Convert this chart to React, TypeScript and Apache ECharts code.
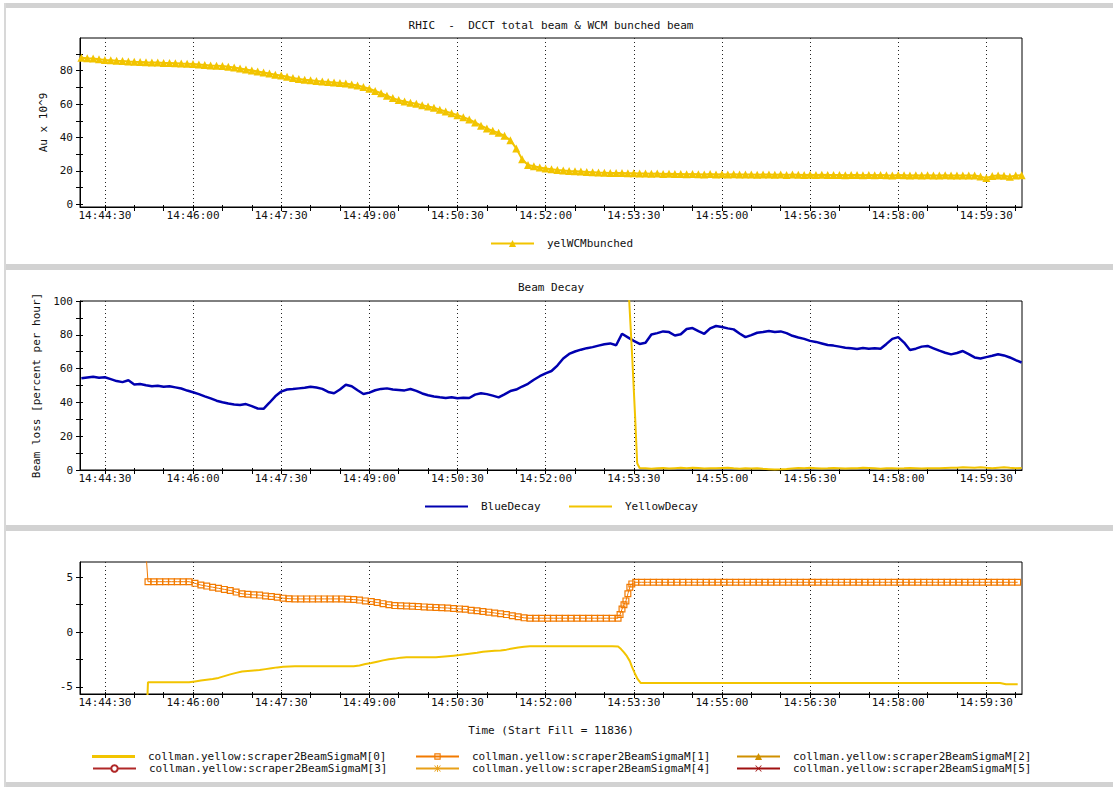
import React, { useEffect, useRef } from 'react';
import * as echarts from 'echarts';

const FONT = '"DejaVu Sans Mono", "Liberation Mono", monospace';
const TXT = '#111111';
const T0 = 14 * 3600 + 44 * 60; // x values are seconds after 14:44:00
const X_MIN = 4.6;
const X_MAX = 966.4;

const xTickValues = [30, 60, 90, 120, 150, 180, 210, 240, 270, 300, 330, 360, 390, 420, 450, 480, 510, 540, 570, 600, 630, 660, 690, 720, 750, 780, 810, 840, 870, 900, 930, 960];
const xLabelValues = [30, 120, 210, 300, 390, 480, 570, 660, 750, 840, 930];

const topYLabels = [0, 20, 40, 60, 80];
const topYTicks = [0, 10, 20, 30, 40, 50, 60, 70, 80, 90];
const midYLabels = [0, 20, 40, 60, 80, 100];
const midYTicks = [0, 10, 20, 30, 40, 50, 60, 70, 80, 90, 100];
const botYLabels = [-5, 0, 5];
const botYTicks = [-5, -2.5, 0, 2.5, 5];

// yelWCMbunched, sampled every 6 s from x = 6
const yelWCMbunched = [
  87.8, 87.5, 87.3, 86.9, 86.5, 86.3, 86.0, 85.9, 85.6, 85.4,
  85.3, 85.1, 85.0, 84.9, 84.7, 84.6, 84.5, 84.3, 84.2, 84.0,
  83.8, 83.5, 83.2, 83.0, 82.8, 82.4, 81.9, 81.3, 80.8, 80.2,
  79.6, 79.0, 78.3, 77.6, 77.1, 76.4, 75.7, 75.1, 74.6, 74.3,
  73.9, 73.5, 73.2, 72.9, 72.7, 72.3, 71.8, 71.2, 70.3, 69.2,
  67.9, 66.5, 65.0, 63.6, 62.4, 61.6, 60.9, 60.2, 59.4, 58.6,
  57.8, 56.7, 55.6, 54.6, 53.4, 52.2, 50.8, 49.0, 47.1, 45.4,
  44.0, 42.8, 41.0, 38.4, 33.5, 27.0, 23.6, 22.8, 22.0, 21.4,
  21.0, 20.6, 20.3, 20.0, 19.8, 19.6, 19.4, 19.2, 19.0, 18.9,
  18.8, 18.7, 18.7, 18.6, 18.6, 18.4, 18.5, 18.3, 18.4, 18.2,
  18.3, 18.1, 18.2, 18.0, 18.1, 18.0, 17.9, 18.1, 17.9, 18.0,
  17.8, 18.0, 17.9, 17.8, 17.9, 17.7, 17.9, 17.8, 17.7, 17.8,
  17.6, 17.8, 17.7, 17.6, 17.7, 17.5, 17.7, 17.6, 17.5, 17.6,
  17.4, 17.6, 17.5, 17.4, 17.5, 17.4, 17.6, 17.4, 17.3, 17.5,
  17.4, 17.3, 17.4, 17.2, 17.4, 17.3, 17.2, 17.4, 17.3, 17.2,
  17.3, 17.3, 17.2, 16.6, 15.8, 16.9, 17.3, 17.1, 16.5, 17.2,
  17.4,
];

// BlueDecay, sampled every 6 s from x = 6
const blueDecay = [
  54.3, 54.8, 55.2, 54.6, 54.9, 53.8, 52.6, 52.0, 53.1, 50.6,
  50.9, 50.2, 49.6, 49.9, 49.3, 49.6, 48.9, 48.2, 47.0, 46.0,
  44.9, 43.6, 42.4, 41.0, 40.1, 39.3, 38.8, 38.5, 39.0, 37.8,
  36.4, 36.2, 39.8, 43.6, 46.4, 47.6, 47.9, 48.3, 48.7, 49.2,
  48.8, 48.0, 46.2, 45.4, 47.6, 50.4, 49.6, 47.2, 45.0, 45.8,
  47.2, 48.0, 48.3, 47.6, 47.4, 47.1, 47.9, 46.8, 45.3, 44.2,
  43.5, 43.0, 42.6, 43.0, 42.4, 42.7, 42.6, 44.6, 45.4, 44.9,
  44.0, 43.0, 44.8, 46.7, 47.6, 49.4, 51.0, 53.4, 55.5, 57.2,
  58.6, 61.8, 66.0, 68.7, 70.1, 71.2, 72.1, 72.7, 73.6, 74.4,
  74.9, 73.8, 80.6, 78.5, 76.4, 74.6, 75.3, 80.2, 81.0, 82.0,
  81.6, 79.6, 80.3, 83.4, 84.0, 82.2, 80.6, 83.8, 85.2, 84.6,
  83.8, 83.2, 80.8, 78.6, 79.8, 81.2, 81.6, 82.2, 81.6, 82.0,
  81.0, 79.4, 78.4, 77.6, 76.4, 75.8, 74.9, 74.0, 73.6, 73.0,
  72.4, 72.0, 71.6, 72.2, 71.8, 72.0, 71.7, 74.6, 77.6, 78.6,
  75.4, 71.0, 71.8, 73.0, 73.4, 72.0, 70.6, 69.4, 68.4, 69.2,
  70.4, 68.6, 66.6, 66.0, 66.8, 67.6, 68.5, 67.8, 66.6, 65.0,
  63.6,
];

// YellowDecay: the steep drop, then every 6 s from x = 582
const yellowDecayDrop = [[565, 104], [568.5, 66], [571.5, 30], [573.5, 4], [576, 1.2]];
const yellowDecayTail = [
  1.0, 0.8, 1.0, 1.2, 0.9, 1.1, 1.3, 1.0, 1.4, 1.2,
  0.9, 1.1, 1.0, 1.2, 1.3, 1.0, 0.8, 1.1, 0.9, 1.0,
  0.7, 0.5, 0.3, 0.4, 0.6, 0.9, 1.2, 1.0, 1.3, 1.1,
  0.9, 1.0, 1.2, 1.1, 0.9, 1.0, 1.1, 1.3, 1.2, 1.0,
  0.8, 1.0, 1.1, 0.9, 1.0, 1.2, 1.1, 0.9, 1.0, 1.1,
  1.0, 1.2, 1.4, 1.3, 1.6, 1.5, 1.4, 1.6, 1.3, 1.1,
  1.4, 1.6, 1.3, 1.1, 1.2,
];

// scraper2BeamSigmaM[0] (yellow line)
const sigma0Lead = [[73, -7]];
const sigma0Before = [ // every 6 s from x = 74
  -4.58, -4.58, -4.58, -4.58, -4.58, -4.58, -4.58, -4.58, -4.5, -4.42,
  -4.35, -4.28, -4.18, -4.02, -3.86, -3.72, -3.6, -3.55, -3.5, -3.46,
  -3.38, -3.3, -3.22, -3.17, -3.13, -3.12, -3.12, -3.12, -3.12, -3.12,
  -3.12, -3.12, -3.12, -3.12, -3.12, -3.12, -3.05, -2.92, -2.82, -2.7,
  -2.58, -2.48, -2.42, -2.33, -2.3, -2.3, -2.3, -2.3, -2.3, -2.3,
  -2.25, -2.2, -2.15, -2.1, -2.02, -1.95, -1.88, -1.8, -1.74, -1.7,
  -1.67, -1.6, -1.5, -1.4, -1.33, -1.3, -1.3, -1.3, -1.3, -1.3,
  -1.3, -1.3, -1.3, -1.3, -1.3, -1.3, -1.3, -1.3, -1.3, -1.3,
  -1.32,
];
const sigma0Drop = [[557, -1.55], [560, -1.85], [563, -2.2], [566, -2.65], [568, -3.12], [571, -3.75], [574, -4.3], [577, -4.64]];
const sigma0After = [ // every 6 s from x = 578
  -4.64, -4.64, -4.64, -4.64, -4.64, -4.64, -4.64, -4.64, -4.64, -4.64,
  -4.64, -4.64, -4.64, -4.64, -4.64, -4.64, -4.64, -4.64, -4.64, -4.64,
  -4.64, -4.64, -4.64, -4.64, -4.64, -4.64, -4.64, -4.64, -4.64, -4.64,
  -4.64, -4.64, -4.64, -4.64, -4.64, -4.64, -4.64, -4.64, -4.64, -4.64,
  -4.64, -4.64, -4.64, -4.64, -4.64, -4.64, -4.64, -4.64, -4.64, -4.64,
  -4.64, -4.64, -4.64, -4.64, -4.64, -4.64, -4.64, -4.64, -4.64, -4.64,
  -4.64, -4.64, -4.76, -4.76, -4.76,
];

// scraper2BeamSigmaM[1] (orange squares)
const sigma1Lead = [[72, 7.2]];
const sigma1Before = [ // every 6 s from x = 74
  4.6, 4.6, 4.6, 4.6, 4.6, 4.6, 4.6, 4.6, 4.45, 4.3,
  4.2, 4.1, 4.0, 3.9, 3.8, 3.65, 3.5, 3.45, 3.4, 3.38,
  3.3, 3.25, 3.18, 3.1, 3.05, 3.03, 3.03, 3.03, 3.03, 3.03,
  3.03, 3.03, 3.03, 3.03, 3.0, 2.97, 2.92, 2.85, 2.79, 2.7,
  2.6, 2.5, 2.42, 2.4, 2.38, 2.36, 2.33, 2.3, 2.27, 2.25,
  2.22, 2.2, 2.15, 2.12, 2.08, 2.0, 1.95, 1.88, 1.82, 1.75,
  1.67, 1.6, 1.5, 1.4, 1.3, 1.27, 1.27, 1.27, 1.27, 1.27,
  1.27, 1.27, 1.27, 1.27, 1.27, 1.27, 1.27, 1.27, 1.27, 1.27,
  1.27,
];
const sigma1Rise = [[556, 1.6], [558, 2.1], [560, 2.5], [562, 2.85], [564, 3.5], [566, 4.1], [568, 4.4]];
const sigma1After = [ // every 6 s from x = 572
  4.55, 4.55, 4.55, 4.55, 4.55, 4.55, 4.55, 4.55, 4.55, 4.55,
  4.55, 4.55, 4.55, 4.55, 4.55, 4.55, 4.55, 4.55, 4.55, 4.55,
  4.55, 4.55, 4.55, 4.55, 4.55, 4.55, 4.55, 4.55, 4.55, 4.55,
  4.55, 4.55, 4.55, 4.55, 4.55, 4.55, 4.55, 4.55, 4.55, 4.55,
  4.55, 4.55, 4.55, 4.55, 4.55, 4.55, 4.55, 4.55, 4.55, 4.55,
  4.55, 4.55, 4.55, 4.55, 4.55, 4.55, 4.55, 4.55, 4.55, 4.55,
  4.55, 4.55, 4.55, 4.55, 4.55, 4.55,
];

const sigmaNames = [0, 1, 2, 3, 4, 5].map((i) => `collman.yellow:scraper2BeamSigmaM[${i}]`);

const YELLOW = '#f2c400';
const BLUE = '#0000b0';
const ORANGE = '#f27a00';
const C2 = '#d09000';
const C3 = '#b02828';
const C4 = '#e8a018';
const C5 = '#a01010';
const HOLLOW_SQUARE = 'path://M0,0H7V7H0Z M1.2,1.2V5.8H5.8V1.2Z';
const ASTERISK = 'path://M4.4,0H5.6V10H4.4Z M0,4.4H10V5.6H0Z M1.2,0.4L9.6,8.8L8.8,9.6L0.4,1.2Z M8.8,0.4L9.6,1.2L1.2,9.6L0.4,8.8Z';
const XMARK = 'path://M1.2,0.4L9.6,8.8L8.8,9.6L0.4,1.2Z M8.8,0.4L9.6,1.2L1.2,9.6L0.4,8.8Z';

const pairs = (start: number, step: number, vals: number[]) => vals.map((v, i) => [start + step * i, v]);
const pad = (n: number) => (n < 10 ? '0' : '') + n;
const fmtTime = (v: number) => {
  const s = T0 + Math.round(v);
  return `${Math.floor(s / 3600)}:${pad(Math.floor((s % 3600) / 60))}:${pad(s % 60)}`;
};

const GRIDS = [
  { top: 38, height: 169 },
  { top: 301, height: 169 },
  { top: 562, height: 132 },
];

function buildOption() {
  const grid = GRIDS.map((g) => ({
    left: 80, width: 942, top: g.top, height: g.height,
    show: true, borderColor: '#000', borderWidth: 1, backgroundColor: 'transparent',
    containLabel: false, outerBoundsMode: 'none',
  }));
  const xAxis: any[] = [];
  GRIDS.forEach((_, g) => {
    xAxis.push({
      type: 'value', gridIndex: g, min: X_MIN, max: X_MAX, position: 'bottom',
      axisLine: { show: true, onZero: false, lineStyle: { color: '#000', width: 1 } },
      axisTick: { show: true, inside: false, length: 4, customValues: xTickValues, lineStyle: { color: '#000' } },
      axisLabel: { show: true, customValues: xLabelValues, formatter: fmtTime, fontFamily: FONT, fontSize: 11, color: TXT, margin: 3 },
      splitLine: { show: false },
    });
    xAxis.push({
      type: 'value', gridIndex: g, min: X_MIN, max: X_MAX, position: 'bottom',
      axisLine: { show: false, onZero: false },
      axisTick: { show: true, inside: true, length: 2, customValues: xTickValues, lineStyle: { color: '#000' } },
      axisLabel: { show: false }, splitLine: { show: false },
    });
    xAxis.push({
      type: 'value', gridIndex: g, min: X_MIN, max: X_MAX, position: 'bottom',
      axisLine: { show: false, onZero: false },
      axisTick: { show: false, customValues: xLabelValues },
      axisLabel: { show: false },
      splitLine: { show: true, lineStyle: { color: '#222', width: 1, type: [1, 3] } },
    });
  });
  const ySpecs = [
    { min: -1.6, max: 99.6, labels: topYLabels, ticks: topYTicks, name: 'Au x 10^9', gap: 20 },
    { min: 0, max: 100, labels: midYLabels, ticks: midYTicks, name: 'Beam loss [percent per hour]', gap: 29 },
    { min: -5.65, max: 6.4, labels: botYLabels, ticks: botYTicks, name: '', gap: 30 },
  ];
  const yAxis: any[] = [];
  ySpecs.forEach((s, g) => {
    yAxis.push({
      type: 'value', gridIndex: g, min: s.min, max: s.max, position: 'left',
      axisLine: { show: true, onZero: false, lineStyle: { color: '#000', width: 1 } },
      axisTick: { show: true, inside: false, length: 4, customValues: s.ticks, lineStyle: { color: '#000' } },
      axisLabel: { show: true, customValues: s.labels, fontFamily: FONT, fontSize: 11, color: TXT, margin: 7 },
      splitLine: { show: false },
      name: s.name, nameLocation: 'middle', nameGap: s.gap,
      nameTextStyle: { fontFamily: FONT, fontSize: 11, color: TXT },
    });
    yAxis.push({
      type: 'value', gridIndex: g, min: s.min, max: s.max, position: 'left',
      axisLine: { show: false, onZero: false },
      axisTick: { show: true, inside: true, length: 3, customValues: s.ticks, lineStyle: { color: '#000' } },
      axisLabel: { show: false }, splitLine: { show: false },
    });
  });

  const series: any[] = [
    {
      name: 'yelWCMbunched', type: 'line', xAxisIndex: 0, yAxisIndex: 0,
      data: pairs(6, 6, yelWCMbunched), symbol: 'triangle', symbolSize: 8, showSymbol: true,
      lineStyle: { color: YELLOW, width: 2 }, itemStyle: { color: YELLOW }, z: 3,
    },
    {
      name: 'BlueDecay', type: 'line', xAxisIndex: 3, yAxisIndex: 2,
      data: pairs(6, 6, blueDecay), symbol: 'none',
      lineStyle: { color: BLUE, width: 2.5 }, itemStyle: { color: BLUE }, z: 3,
    },
    {
      name: 'YellowDecay', type: 'line', xAxisIndex: 3, yAxisIndex: 2,
      data: [...yellowDecayDrop, ...pairs(582, 6, yellowDecayTail)], symbol: 'none',
      lineStyle: { color: YELLOW, width: 2 }, itemStyle: { color: YELLOW }, z: 4,
    },
    {
      name: sigmaNames[0], type: 'line', xAxisIndex: 6, yAxisIndex: 4,
      data: [...sigma0Lead, ...pairs(74, 6, sigma0Before), ...sigma0Drop, ...pairs(578, 6, sigma0After)],
      symbol: 'none', lineStyle: { color: YELLOW, width: 2 }, itemStyle: { color: YELLOW }, z: 3,
    },
    {
      name: sigmaNames[1], type: 'line', xAxisIndex: 6, yAxisIndex: 4,
      data: [...sigma1Lead, ...pairs(74, 6, sigma1Before), ...sigma1Rise, ...pairs(572, 6, sigma1After)],
      symbol: HOLLOW_SQUARE, symbolSize: 7, showSymbol: true,
      lineStyle: { color: ORANGE, width: 1 }, itemStyle: { color: ORANGE }, z: 4,
    },
    {
      name: sigmaNames[2], type: 'line', xAxisIndex: 6, yAxisIndex: 4, data: [],
      symbol: 'triangle', lineStyle: { color: C2, width: 1 }, itemStyle: { color: C2 },
    },
    {
      name: sigmaNames[3], type: 'line', xAxisIndex: 6, yAxisIndex: 4, data: [],
      symbol: 'emptyCircle', lineStyle: { color: C3, width: 1 }, itemStyle: { color: C3 },
    },
    {
      name: sigmaNames[4], type: 'line', xAxisIndex: 6, yAxisIndex: 4, data: [],
      symbol: ASTERISK, lineStyle: { color: C4, width: 1 }, itemStyle: { color: C4 },
    },
    {
      name: sigmaNames[5], type: 'line', xAxisIndex: 6, yAxisIndex: 4, data: [],
      symbol: XMARK, lineStyle: { color: C5, width: 1 }, itemStyle: { color: C5 },
    },
  ];

  const leg = (name: string, left: number, rowCenter: number, itemHeight: number, icon?: string) => ({
    data: [icon ? { name, icon } : { name }],
    left, top: rowCenter - 6, orient: 'horizontal', padding: 0, itemGap: 0,
    itemWidth: 43, itemHeight, selectedMode: false,
    textStyle: { fontFamily: FONT, fontSize: 11, color: TXT, padding: [0, 0, 0, 8] },
  });
  const legend = [
    leg('yelWCMbunched', 490, 244, 9),
    leg('BlueDecay', 425, 507, 2, 'rect'),
    leg('YellowDecay', 569, 507, 2, 'rect'),
    leg(sigmaNames[0], 92, 757, 3, 'rect'),
    leg(sigmaNames[1], 415, 757, 8),
    leg(sigmaNames[2], 736, 757, 9),
    leg(sigmaNames[3], 92, 769, 8),
    leg(sigmaNames[4], 415, 769, 9),
    leg(sigmaNames[5], 736, 769, 8),
  ];

  const BAND = '#d2d2d2';
  const txt = (text: string, x: number, y: number) => ({
    type: 'text', x, y, silent: true,
    style: { text, fill: TXT, font: `11px ${FONT}`, align: 'center', verticalAlign: 'middle' },
  });
  const graphic = [
    { type: 'rect', shape: { x: 4, y: 3, width: 1109, height: 5 }, style: { fill: BAND }, silent: true },
    { type: 'rect', shape: { x: 4, y: 264, width: 1109, height: 6 }, style: { fill: BAND }, silent: true },
    { type: 'rect', shape: { x: 4, y: 525, width: 1109, height: 6 }, style: { fill: BAND }, silent: true },
    { type: 'rect', shape: { x: 4, y: 782, width: 1109, height: 5 }, style: { fill: BAND }, silent: true },
    { type: 'rect', shape: { x: 4, y: 3, width: 2, height: 784 }, style: { fill: '#d8d8d8' }, silent: true },
    txt('RHIC  -  DCCT total beam & WCM bunched beam', 551, 25),
    txt('Beam Decay', 551, 287),
    txt('Time (Start Fill = 11836)', 551, 730),
  ];

  return {
    animation: false,
    backgroundColor: '#ffffff',
    textStyle: { fontFamily: FONT },
    grid, xAxis, yAxis, series, legend, graphic,
  };
}

export default function App() {
  const ref = useRef<HTMLDivElement>(null);
  useEffect(() => {
    if (!ref.current) return;
    const chart = echarts.init(ref.current, undefined, { renderer: 'svg' });
    chart.setOption(buildOption() as any);
    return () => chart.dispose();
  }, []);
  return (
    <div
      ref={ref}
      style={{ position: 'absolute', left: 0, top: 0, width: 1113, height: 789, background: '#ffffff' }}
    />
  );
}
